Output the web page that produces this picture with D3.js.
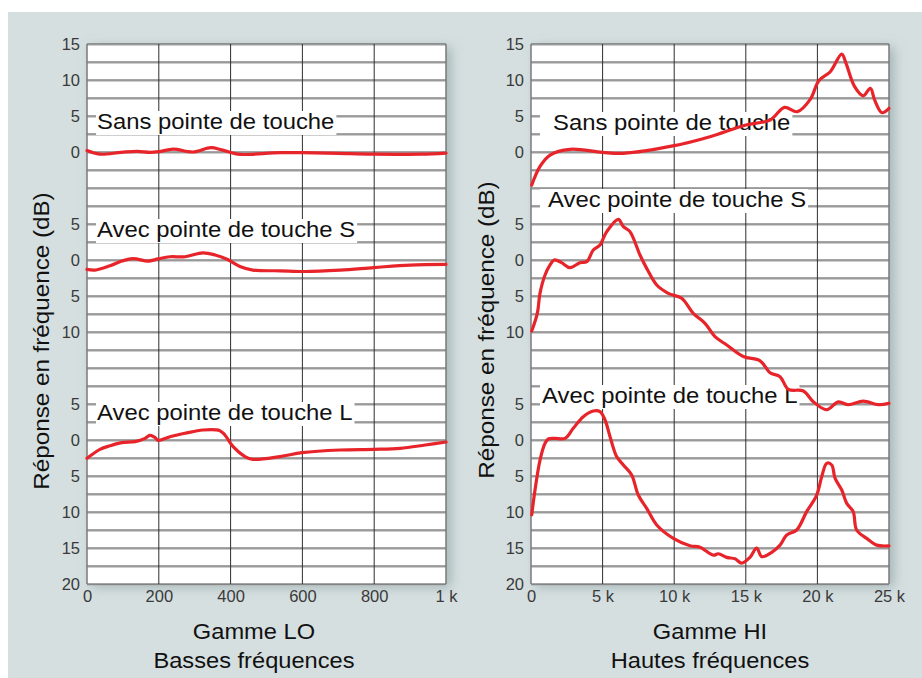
<!DOCTYPE html>
<html><head><meta charset="utf-8">
<script src="https://cdn.jsdelivr.net/npm/d3@7/dist/d3.min.js"></script>
<style>
html,body{margin:0;padding:0;background:#fff;}
svg{display:block;}
text{font-family:"Liberation Sans",Arial,Helvetica,sans-serif;}
</style>
</head><body>
<svg id="c" width="922" height="678"></svg>
<script>
// ---------- DATA ----------
const loTicksX = [0, 200, 400, 600, 800, 1000];
const loTickLabels = ["0", "200", "400", "600", "800", "1 k"];
const hiTicksX = [0, 5, 10, 15, 20, 25];
const hiTickLabels = ["0", "5 k", "10 k", "15 k", "20 k", "25 k"];

// offset (dB) of each stacked group's zero on the shared vertical scale
const groupZero = [0, -15, -40];
const groupTicks = [[15, 10, 5, 0], [5, 0, -5, -10], [5, 0, -5, -10, -15, -20]];
const seriesLabels = ["Sans pointe de touche", "Avec pointe de touche S", "Avec pointe de touche L"];

const yAxisTitle = "Réponse en fréquence (dB)";
const loTitle = ["Gamme LO", "Basses fréquences"];
const hiTitle = ["Gamme HI", "Hautes fréquences"];

// LO range (Hz, dB)
const loSans = [[0,0.2],[35,-0.3],[95,-0.05],[140,0.1],[175,-0.05],[200,0.05],[240,0.4],[295,0],[345,0.6],[375,0.3],[420,-0.3],[440,-0.35],[540,-0.1],[600,-0.1],[700,-0.2],[800,-0.3],[930,-0.3],[1000,-0.15]];
const loS = [[0,-1.3],[22,-1.4],[64,-0.8],[97,-0.15],[128,0.2],[170,-0.15],[198,0.15],[231,0.45],[273,0.45],[323,1.0],[357,0.7],[390,0.1],[426,-0.9],[462,-1.4],[538,-1.5],[607,-1.6],[705,-1.4],[799,-1.05],[900,-0.7],[1000,-0.6]];
const loL = [[0,-2.55],[36,-1.3],[64,-0.8],[97,-0.37],[134,-0.23],[162,0.23],[175,0.65],[189,0.37],[198,-0.05],[231,0.46],[273,0.93],[323,1.39],[370,1.3],[384,0.7],[407,-0.93],[440,-2.3],[462,-2.68],[538,-2.3],[599,-1.76],[705,-1.39],[799,-1.3],[872,-1.16],[942,-0.7],[1000,-0.28]];

// HI range (kHz, dB)
const hiSans = [[0.05,-4.6],[0.63,-2.0],[1.33,-0.42],[2.72,0.37],[4.98,-0.05],[6.45,-0.18],[10.0,0.88],[12.5,2.13],[15.0,3.75],[16.7,4.44],[17.7,6.2],[18.6,5.6],[19.5,7.3],[20.1,9.9],[20.9,11.15],[21.7,13.6],[22.0,12.3],[22.6,9.07],[23.2,7.8],[23.7,8.85],[24.0,7.2],[24.5,5.46],[25.0,6.07]];
const hiS = [[0.05,-9.86],[0.44,-7.4],[0.63,-4.6],[0.98,-2.08],[1.33,-0.69],[1.63,0],[2.14,-0.37],[2.72,-1.07],[3.42,-0.37],[3.89,-0.23],[4.35,1.39],[4.82,2.08],[5.0,2.78],[5.29,3.94],[6.1,5.65],[6.45,4.63],[6.91,3.94],[7.61,0.69],[8.08,-1.16],[8.78,-3.47],[9.59,-4.63],[10.52,-5.32],[11.33,-7.4],[12.15,-8.8],[12.85,-10.65],[13.67,-11.8],[14.83,-13.4],[16.0,-14.0],[16.69,-15.65],[17.39,-16.2],[17.97,-17.96],[19.02,-18.2],[19.71,-19.68],[20.65,-20.8],[21.46,-19.7],[22.16,-20.1],[23.2,-19.6],[24.25,-20.1],[25.0,-19.9]];
const hiL = [[0.05,-10.4],[0.28,-6.94],[0.63,-2.78],[0.98,-0.46],[1.21,0.14],[1.68,0.23],[2.37,0.23],[2.95,1.62],[3.65,3.24],[4.35,4.03],[4.82,3.94],[5.17,2.78],[5.52,0.46],[5.98,-2.3],[6.45,-3.47],[7.03,-4.86],[7.49,-7.64],[8.08,-9.5],[8.78,-11.8],[9.94,-13.66],[11.1,-14.68],[11.8,-14.9],[12.73,-16.0],[13.08,-15.8],[13.67,-16.3],[14.25,-16.5],[14.71,-17.1],[15.29,-16.3],[15.76,-15.0],[16.11,-16.2],[16.81,-15.6],[17.39,-14.6],[17.86,-13.2],[18.55,-12.5],[19.25,-9.95],[19.95,-7.64],[20.3,-5.1],[20.65,-3.24],[21.0,-3.47],[21.23,-5.3],[21.7,-6.94],[22.05,-8.8],[22.5,-9.95],[22.74,-12.5],[23.44,-13.66],[24.14,-14.6],[25.0,-14.7]];

// ---------- LAYOUT ----------
const W = 922, H = 678;
const plotTop = 44, plotBottom = 584;
const panels = [
  {x0: 87, x1: 446, domain: [0, 1000], ticks: loTicksX, tickLabels: loTickLabels,
   series: [loSans, loS, loL], labelX: [97, 97, 97], labelBase: [129, 237, 420],
   titles: loTitle, titleX: 254, yTitleX: 49, yTitleY: 341},
  {x0: 531, x1: 889, domain: [0, 25], ticks: hiTicksX, tickLabels: hiTickLabels,
   series: [hiSans, hiS, hiL], labelX: [553, 548, 542], labelBase: [130, 207, 403],
   titles: hiTitle, titleX: 710, yTitleX: 494, yTitleY: 330}
];

const svg = d3.select("#c");
const defs = svg.append("defs");
const f = defs.append("filter").attr("id", "sh").attr("x", "-10%").attr("y", "-10%").attr("width", "130%").attr("height", "130%");
f.append("feDropShadow").attr("dx", 5).attr("dy", 3).attr("stdDeviation", 6)
  .attr("flood-color", "#7d9193").attr("flood-opacity", 0.55);

svg.append("rect").attr("x", 0).attr("y", 0).attr("width", W).attr("height", H).attr("fill", "#fff");
svg.append("rect").attr("x", 8).attr("y", 12).attr("width", W - 8).attr("height", H - 12).attr("fill", "#d5dfe0");

const y = d3.scaleLinear().domain([15, -60]).range([plotTop, plotBottom]);
const gridVals = d3.range(15, -60.001, -2.5);

function stretch(sel, k) {
  sel.each(function () {
    const len = this.getComputedTextLength();
    d3.select(this).attr("textLength", len * k).attr("lengthAdjust", "spacingAndGlyphs");
  });
}

panels.forEach(p => {
  const x = d3.scaleLinear().domain(p.domain).range([p.x0, p.x1]);
  const g = svg.append("g");

  g.append("rect").attr("x", p.x0).attr("y", plotTop).attr("width", p.x1 - p.x0)
    .attr("height", plotBottom - plotTop).attr("fill", "#fff").attr("filter", "url(#sh)");

  // horizontal grid (dark line + light shade)
  g.selectAll(".hs").data(gridVals).join("line")
    .attr("x1", p.x0).attr("x2", p.x1)
    .attr("y1", d => y(d) + 1.2).attr("y2", d => y(d) + 1.2)
    .attr("stroke", "#b9b9b9").attr("stroke-width", 1);
  g.selectAll(".hg").data(gridVals).join("line")
    .attr("x1", p.x0).attr("x2", p.x1)
    .attr("y1", d => y(d)).attr("y2", d => y(d))
    .attr("stroke", "#4a4a4a").attr("stroke-width", 1);

  // vertical grid
  g.selectAll(".vg").data(p.ticks).join("line")
    .attr("x1", d => x(d)).attr("x2", d => x(d))
    .attr("y1", plotTop).attr("y2", plotBottom)
    .attr("stroke", (d, i) => (i === 0 || i === p.ticks.length - 1) ? "#7a7a7a" : "#2e2e2e")
    .attr("stroke-width", (d, i) => (i === 0 || i === p.ticks.length - 1) ? 1.5 : 1);

  // curve labels with white backing
  const labG = g.append("g");
  seriesLabels.forEach((t, i) => {
    const tx = labG.append("text").attr("x", p.labelX[i]).attr("y", p.labelBase[i])
      .attr("font-size", 22.5).attr("fill", "#111").text(t);
    stretch(tx, 1.06);
    const bb = tx.node().getBBox();
    labG.insert("rect", "text").attr("x", p.x0 + 9).attr("y", p.labelBase[i] - 18)
      .attr("width", bb.x + bb.width + 2 - (p.x0 + 9)).attr("height", 24).attr("fill", "#fff");
  });

  // curves
  const line = d3.line().x(d => x(d[0])).curve(d3.curveCatmullRom.alpha(0.5));
  p.series.forEach((s, i) => {
    g.append("path").datum(s)
      .attr("d", line.y(d => y(d[1] + groupZero[i])))
      .attr("fill", "none").attr("stroke", "#e8242b").attr("stroke-width", 3.2)
      .attr("stroke-linejoin", "round").attr("stroke-linecap", "round");
  });

  // y tick labels
  groupTicks.forEach((ticks, gi) => {
    const ax = d3.axisLeft(y).tickValues(ticks.map(v => v + groupZero[gi]))
      .tickFormat(v => String(Math.abs(Math.round(v - groupZero[gi])))).tickSize(0).tickPadding(0);
    const ag = svg.append("g").attr("transform", `translate(${p.x0 - 7},0)`).call(ax);
    ag.select(".domain").remove();
    ag.selectAll("text").attr("font-size", 16.5).attr("fill", "#3a3a3a")
      .style("font-family", '"Liberation Sans",Arial,sans-serif');
  });

  // x tick labels
  const axb = d3.axisBottom(x).tickValues(p.ticks).tickFormat((d, i) => p.tickLabels[i]).tickSize(0).tickPadding(0);
  const xg = svg.append("g").attr("transform", `translate(0,${plotBottom + 6})`).call(axb);
  xg.select(".domain").remove();
  xg.selectAll("text").attr("font-size", 16.5).attr("fill", "#3a3a3a")
    .style("font-family", '"Liberation Sans",Arial,sans-serif');

  // axis titles
  const t1 = svg.append("text").attr("x", p.titleX).attr("y", 639).attr("text-anchor", "middle")
    .attr("font-size", 21.5).attr("fill", "#111").text(p.titles[0]);
  const t2 = svg.append("text").attr("x", p.titleX).attr("y", 668).attr("text-anchor", "middle")
    .attr("font-size", 21.5).attr("fill", "#111").text(p.titles[1]);
  stretch(t1, 1.1); stretch(t2, 1.1);

  const yt = svg.append("text").attr("transform", `translate(${p.yTitleX},${p.yTitleY}) rotate(-90)`)
    .attr("text-anchor", "middle").attr("font-size", 22).attr("fill", "#111").text(yAxisTitle);
  stretch(yt, 1.1);
});
</script>
</body></html>
